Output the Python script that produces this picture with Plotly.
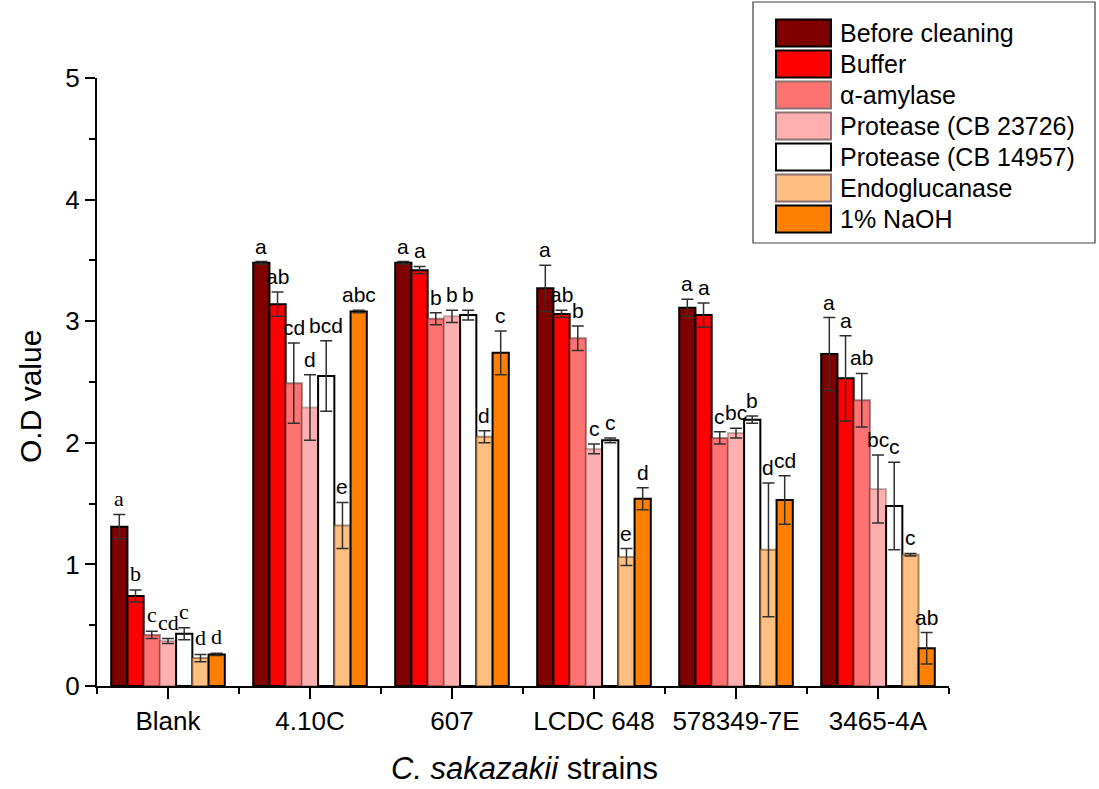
import plotly.graph_objects as go

categories = ["Blank", "4.10C", "607", "LCDC 648", "578349-7E", "3465-4A"]
series_names = ["Before cleaning", "Buffer", "α-amylase", "Protease (CB 23726)",
                "Protease (CB 14957)", "Endoglucanase", "1% NaOH"]

before_cleaning = [1.31, 3.48, 3.48, 3.27, 3.11, 2.73]
buffer_vals     = [0.74, 3.14, 3.42, 3.06, 3.05, 2.53]
amylase         = [0.42, 2.49, 3.02, 2.86, 2.04, 2.35]
protease_23726  = [0.37, 2.29, 3.04, 1.95, 2.08, 1.62]
protease_14957  = [0.43, 2.55, 3.05, 2.02, 2.19, 1.48]
endoglucanase   = [0.23, 1.32, 2.05, 1.06, 1.12, 1.08]
naoh            = [0.26, 3.08, 2.74, 1.54, 1.53, 0.31]

err_before   = [0.10, 0.01, 0.01, 0.19, 0.07, 0.30]
err_buffer   = [0.05, 0.10, 0.03, 0.03, 0.10, 0.35]
err_amylase  = [0.03, 0.33, 0.05, 0.10, 0.05, 0.22]
err_p23726   = [0.02, 0.27, 0.05, 0.04, 0.04, 0.28]
err_p14957   = [0.05, 0.29, 0.04, 0.02, 0.03, 0.36]
err_endo     = [0.03, 0.19, 0.05, 0.07, 0.55, 0.01]
err_naoh     = [0.01, 0.01, 0.18, 0.09, 0.20, 0.13]

letters_before = ["a", "a", "a", "a", "a", "a"]
letters_buffer = ["b", "ab", "a", "ab", "a", "a"]
letters_amyl   = ["c", "cd", "b", "b", "c", "ab"]
letters_p23726 = ["cd", "d", "b", "c", "bc", "bc"]
letters_p14957 = ["c", "bcd", "b", "c", "b", "c"]
letters_endo   = ["d", "e", "d", "e", "d", "c"]
letters_naoh   = ["d", "abc", "c", "d", "cd", "ab"]

values = [before_cleaning, buffer_vals, amylase, protease_23726, protease_14957, endoglucanase, naoh]
errors = [err_before, err_buffer, err_amylase, err_p23726, err_p14957, err_endo, err_naoh]
letters = [letters_before, letters_buffer, letters_amyl, letters_p23726, letters_p14957, letters_endo, letters_naoh]

fill_colors = ["#800000", "#FF0000", "#FF7272", "#FFAFAF", "#FFFFFF", "#FFBF80", "#FF8000"]
line_colors = ["#000000", "#000000", "rgba(90,40,40,0.55)", "rgba(90,60,60,0.35)",
               "#000000", "rgba(100,60,20,0.55)", "#000000"]

W, H = 1099, 789
L, R, T, B = 97, 150, 78, 103
PW, PH = W - L - R, H - T - B
BARGAP = 0.2
n_series = len(series_names)
bar_w = (1 - BARGAP) / n_series

xpos = list(range(len(categories)))

fig = go.Figure()
for i, name in enumerate(series_names):
    fig.add_trace(go.Bar(
        x=xpos, y=values[i], name=name,
        marker=dict(color=fill_colors[i], line=dict(color=line_colors[i], width=2)),
        error_y=dict(type="data", array=errors[i], symmetric=True,
                     color="#303030", thickness=1.5, width=6),
        showlegend=False,
    ))


def px_x(p):
    return (p - L) / PW


def px_y(p):
    return (H - B - p) / PH


# significance letters above error bars
annotations = []
for i in range(n_series):
    off = -(1 - BARGAP) / 2 + (i + 0.5) * bar_w
    for j, cat in enumerate(categories):
        serif = (j == 0)
        annotations.append(dict(
            x=j + off, y=values[i][j] + errors[i][j], xref="x", yref="y",
            text=letters[i][j], showarrow=False, yanchor="bottom", yshift=2,
            font=dict(family="Liberation Serif" if serif else "Liberation Sans",
                      size=21 if not serif else 22, color="#000000"),
        ))

# custom legend (matching the large swatches of the original)
shapes = [dict(type="rect", xref="paper", yref="paper",
               x0=px_x(753), x1=px_x(1095), y0=px_y(243), y1=px_y(2),
               line=dict(color="#404040", width=1.2), fillcolor="#FFFFFF", layer="above")]
row0, row_step, sw_h = 33, 31, 27
for i, name in enumerate(series_names):
    cy = row0 + i * row_step
    shapes.append(dict(type="rect", xref="paper", yref="paper",
                       x0=px_x(776), x1=px_x(831), y0=px_y(cy + sw_h / 2), y1=px_y(cy - sw_h / 2),
                       fillcolor=fill_colors[i],
                       line=dict(color="#000000" if line_colors[i] == "#000000" else "#8a7070", width=2),
                       layer="above"))
    annotations.append(dict(x=px_x(838), y=px_y(cy), xref="paper", yref="paper",
                            text=name, showarrow=False, xanchor="left", yanchor="middle",
                            font=dict(family="Liberation Sans", size=25, color="#000000")))

# axis titles
annotations.append(dict(x=px_x(30), y=px_y(397), xref="paper", yref="paper",
                        text="O.D value", showarrow=False, textangle=-90,
                        xanchor="center", yanchor="middle",
                        font=dict(family="Liberation Sans", size=30, color="#000000")))
annotations.append(dict(x=px_x(524), y=px_y(769), xref="paper", yref="paper",
                        text="<i>C. sakazakii</i> strains", showarrow=False,
                        xanchor="center", yanchor="middle",
                        font=dict(family="Liberation Sans", size=31, color="#000000")))

fig.update_layout(
    width=W, height=H,
    margin=dict(l=L, r=R, t=T, b=B, pad=0, autoexpand=False),
    paper_bgcolor="#FFFFFF", plot_bgcolor="#FFFFFF",
    barmode="group", bargap=BARGAP, bargroupgap=0,
    font=dict(family="Liberation Sans", color="#000000"),
    shapes=shapes, annotations=annotations,
    showlegend=False,
    xaxis=dict(
        range=[-0.5, 5.5], tickmode="array", tickvals=xpos, ticktext=categories,
        automargin=False,
        showgrid=False, zeroline=False, showline=True, linecolor="#000000", linewidth=2,
        ticks="outside", ticklen=11, tickwidth=2, tickcolor="#000000",
        tickfont=dict(size=26, family="Liberation Sans"),
        minor=dict(tickvals=[k - 0.5 for k in range(len(categories) + 1)],
                   ticks="outside", ticklen=6, tickwidth=2, tickcolor="#000000"),
    ),
    yaxis=dict(
        range=[0, 5], tickvals=[0, 1, 2, 3, 4, 5],
        automargin=False,
        showgrid=False, zeroline=False, showline=True, linecolor="#000000", linewidth=2,
        ticks="outside", ticklen=10, tickwidth=2, tickcolor="#000000",
        tickfont=dict(size=26, family="Liberation Sans"),
        minor=dict(tickvals=[0.5, 1.5, 2.5, 3.5, 4.5], ticks="outside", ticklen=6,
                   tickwidth=2, tickcolor="#000000"),
    ),
)

fig.write_html("out.html")
